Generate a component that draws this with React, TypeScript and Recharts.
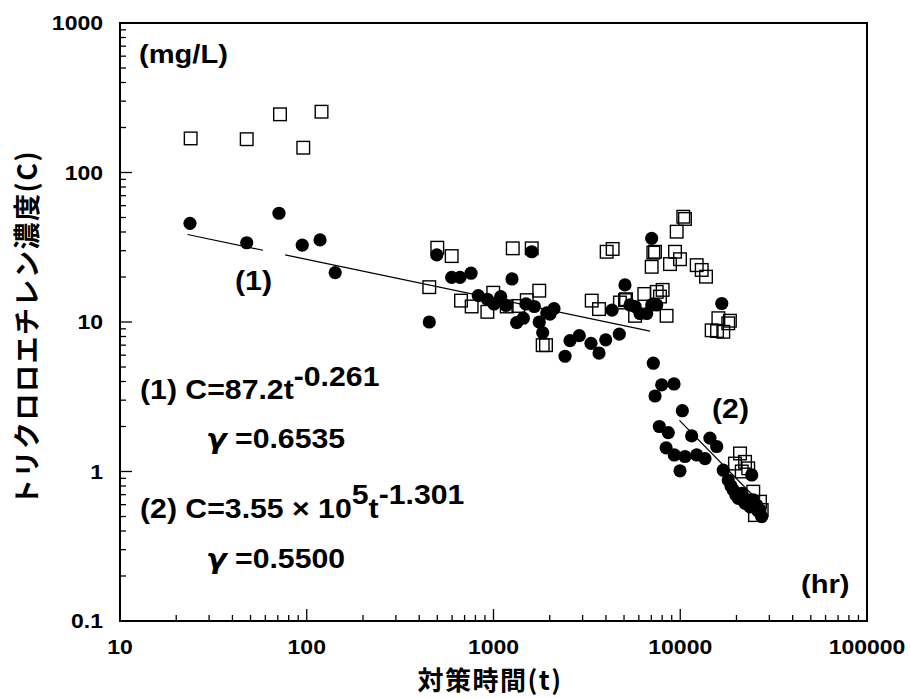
import React from "react";
import {
  Customized,
  ReferenceArea,
  Scatter,
  ScatterChart,
  XAxis,
  YAxis,
} from "recharts";

const FONT = "'Liberation Sans', Arial, sans-serif";
const CJK = "'Noto Sans CJK JP', 'Noto Sans', sans-serif";
const INK = "#000";

// axis ticks (major = powers of ten, the rest are minor marks)
const X_TICKS = [
  10, 20, 30, 40, 50, 60, 70, 80, 90,
  100, 200, 300, 400, 500, 600, 700, 800, 900,
  1000, 2000, 3000, 4000, 5000, 6000, 7000, 8000, 9000,
  10000, 20000, 30000, 40000, 50000, 60000, 70000, 80000, 90000,
  100000,
];
const Y_TICKS = [
  0.1, 0.2, 0.3, 0.4, 0.5, 0.6, 0.7, 0.8, 0.9,
  1, 2, 3, 4, 5, 6, 7, 8, 9,
  10, 20, 30, 40, 50, 60, 70, 80, 90,
  100, 200, 300, 400, 500, 600, 700, 800, 900,
  1000,
];
const MAJOR = [0.1, 1, 10, 100, 1000, 10000, 100000];

// open squares: [t (hr), C (mg/L)]
const SQUARES: [number, number][] = [
  [23.9, 169], [47.7, 167], [71.9, 245], [95.8, 146.5], [120, 255],
  [500, 31.4], [597, 27.6], [453, 17.1], [670, 13.9], [764, 12.7],
  [927, 11.7], [997, 15.7], [1177, 12.7], [1268, 31.1], [1602, 31.1],
  [1507, 14.0], [1758, 16.2], [1358, 12.8], [1834, 7.0], [1910, 7.0],
  [3357, 13.9], [3673, 12.2], [4036, 29.5], [4345, 30.8], [4753, 13.5],
  [5123, 14.2], [5729, 11.0], [6420, 15.4],
  [10380, 50.6], [10600, 48.9], [9570, 40.2], [7175, 29.1], [7327, 29.5],
  [7031, 23.4], [9376, 29.5], [8810, 24.4], [9970, 26.3], [12250, 24.0],
  [13030, 22.3], [13740, 20.1], [5058, 14.0], [7480, 15.9], [8050, 16.4],
  [7790, 14.8], [8450, 11.0], [16000, 10.6], [18450, 10.2], [18070, 9.8],
  [14730, 8.8], [17000, 8.6], [15740, 8.7],
  [20900, 1.32], [22230, 1.16], [19630, 1.13], [23120, 1.05], [21340, 1.0],
  [24600, 0.733], [26730, 0.628], [27300, 0.553], [25120, 0.511],
];

// filled circles: [t (hr), C (mg/L)]
const CIRCLES: [number, number][] = [
  [23.7, 45.7], [47.7, 33.9], [71, 53.4], [94.6, 32.7], [117.8, 35.4], [142, 21.4],
  [497, 28.1], [453, 10.0], [597, 19.9], [662, 19.9], [758, 21.2], [829, 15.0],
  [927, 14.2], [1006, 13.2], [1093, 14.8], [1167, 12.9], [1256, 19.4], [1330, 9.9],
  [1444, 10.6], [1493, 13.2], [1602, 29.5], [1654, 12.7], [1758, 10.0], [1834, 8.5],
  [1928, 11.5], [2007, 11.3], [2109, 12.3], [2416, 5.9], [2568, 7.5], [2880, 8.1],
  [3326, 7.2], [3673, 6.2], [3990, 7.6], [4311, 12.0], [4717, 8.3], [5058, 17.7],
  [5383, 13.0], [5729, 12.7], [6087, 11.4], [6607, 11.4], [7031, 36.3],
  [7031, 13.0], [7480, 13.0], [16680, 13.3], [7175, 5.3], [7955, 3.8], [9260, 3.85],
  [7327, 3.2], [10260, 2.55], [7727, 2.0], [8630, 1.82], [11510, 1.73], [14420, 1.67],
  [15670, 1.47], [8400, 1.44], [9290, 1.29], [10600, 1.26], [12250, 1.29], [13570, 1.22],
  [9970, 1.01], [17000, 1.02], [18070, 0.877], [18700, 0.8], [19230, 0.752],
  [19860, 0.697], [20460, 0.662], [21340, 0.715], [22230, 0.613], [23070, 0.645],
  [23640, 0.58], [24130, 0.948], [24600, 0.645], [25650, 0.597], [26080, 0.545],
  [26730, 0.553], [27300, 0.499],
];

// regression lines, end points
const FIT1_A: [number, number][] = [[23, 38.5], [58.3, 30.2]];
const FIT1_B: [number, number][] = [[76.6, 28.1], [6890, 8.7]];
const FIT2: [number, number][] = [[9900, 2.2], [26700, 0.62]];

const pts = (a: [number, number][]) => a.map(([t, c]) => ({ t, c }));

function StretchText({ x, y, size = 27, sx = 1.12, anchor = "start", children }: any) {
  return (
    <text
      transform={`translate(${x},${y}) scale(${sx},1)`}
      fontSize={size}
      fontWeight={700}
      fontFamily={FONT}
      textAnchor={anchor}
      fill={INK}
    >
      {children}
    </text>
  );
}

const Gamma = () => (
  <tspan fontFamily="'DejaVu Sans', sans-serif" fontStyle="italic">
    γ
  </tspan>
);

function XTick({ x, y, payload }: any) {
  const major = MAJOR.includes(payload.value);
  return (
    <g>
      <line x1={x} x2={x} y1={y} y2={y - (major ? 12 : 6)} stroke={INK} strokeWidth={1.3} />
      {major && (
        <StretchText x={x} y={y + 33} size={20} sx={1.15} anchor="middle">
          {payload.value}
        </StretchText>
      )}
    </g>
  );
}

function YTick({ x, y, payload }: any) {
  const major = MAJOR.includes(payload.value);
  return (
    <g>
      <line x1={x} x2={x + (major ? 12 : 6)} y1={y} y2={y} stroke={INK} strokeWidth={1.3} />
      {major && (
        <StretchText x={x - 17} y={y + 7} size={20} sx={1.15} anchor="end">
          {payload.value}
        </StretchText>
      )}
    </g>
  );
}

const squareShape = (p: any) => (
  <rect x={p.cx - 6.3} y={p.cy - 6.3} width={12.6} height={12.6} fill="none" stroke={INK} strokeWidth={1.4} />
);
const circleShape = (p: any) => <circle cx={p.cx} cy={p.cy} r={6.6} fill={INK} />;
const noShape = () => <g />;

function Annotations() {
  return (
    <g>
      <StretchText x={139} y={63} size={26}>(mg/L)</StretchText>
      <StretchText x={235} y={290}>(1)</StretchText>
      <StretchText x={712} y={418}>(2)</StretchText>
      <StretchText x={801} y={593} size={26}>(hr)</StretchText>
      <StretchText x={140} y={399}>
        (1) C=87.2t<tspan dy={-13}>-0.261</tspan>
      </StretchText>
      <StretchText x={206} y={448}>
        <Gamma /> =0.6535
      </StretchText>
      <StretchText x={140} y={518}>
        (2) C=3.55 × 10<tspan dy={-14}>5</tspan>
        <tspan dy={14}>t</tspan>
        <tspan dy={-14}>-1.301</tspan>
      </StretchText>
      <StretchText x={206} y={568}>
        <Gamma /> =0.5500
      </StretchText>
      <text
        x={490}
        y={690}
        textAnchor="middle"
        fontSize={26}
        letterSpacing={1.5}
        fontWeight={700}
        fontFamily={CJK}
        fill={INK}
      >
        対策時間(t)
      </text>
      <text
        transform="translate(25,328) rotate(-90)"
        textAnchor="middle"
        dominantBaseline="central"
        fontSize={27}
        letterSpacing={1.5}
        fontWeight={700}
        fontFamily={CJK}
        fill={INK}
      >
        トリクロロエチレン濃度(C)
      </text>
    </g>
  );
}

export default function App() {
  return (
    <div style={{ position: "absolute", left: 0, top: 0, background: "#fff" }}>
      <ScatterChart width={910} height={698} margin={{ top: 23, right: 43, bottom: 0, left: 0 }}>
        <XAxis
          type="number"
          dataKey="t"
          scale="log"
          domain={[10, 100000]}
          ticks={X_TICKS}
          interval={0}
          allowDataOverflow
          tick={(p: any) => <XTick {...p} />}
          tickSize={0}
          tickMargin={0}
          tickLine={false}
          axisLine={false}
          height={77}
        />
        <YAxis
          type="number"
          dataKey="c"
          scale="log"
          domain={[0.1, 1000]}
          ticks={Y_TICKS}
          interval={0}
          allowDataOverflow
          tick={(p: any) => <YTick {...p} />}
          tickSize={0}
          tickMargin={0}
          tickLine={false}
          axisLine={false}
          width={120}
        />
        <ReferenceArea x1={10} x2={100000} y1={0.1} y2={1000} fill="none" stroke={INK} strokeWidth={2} />
        <Scatter data={pts(SQUARES)} shape={squareShape} isAnimationActive={false} />
        <Scatter data={pts(FIT1_A)} line={{ stroke: INK, strokeWidth: 1.2 }} shape={noShape} isAnimationActive={false} />
        <Scatter data={pts(FIT1_B)} line={{ stroke: INK, strokeWidth: 1.2 }} shape={noShape} isAnimationActive={false} />
        <Scatter data={pts(FIT2)} line={{ stroke: INK, strokeWidth: 1.2 }} shape={noShape} isAnimationActive={false} />
        <Scatter data={pts(CIRCLES)} shape={circleShape} isAnimationActive={false} />
        <Customized component={Annotations} />
      </ScatterChart>
    </div>
  );
}
